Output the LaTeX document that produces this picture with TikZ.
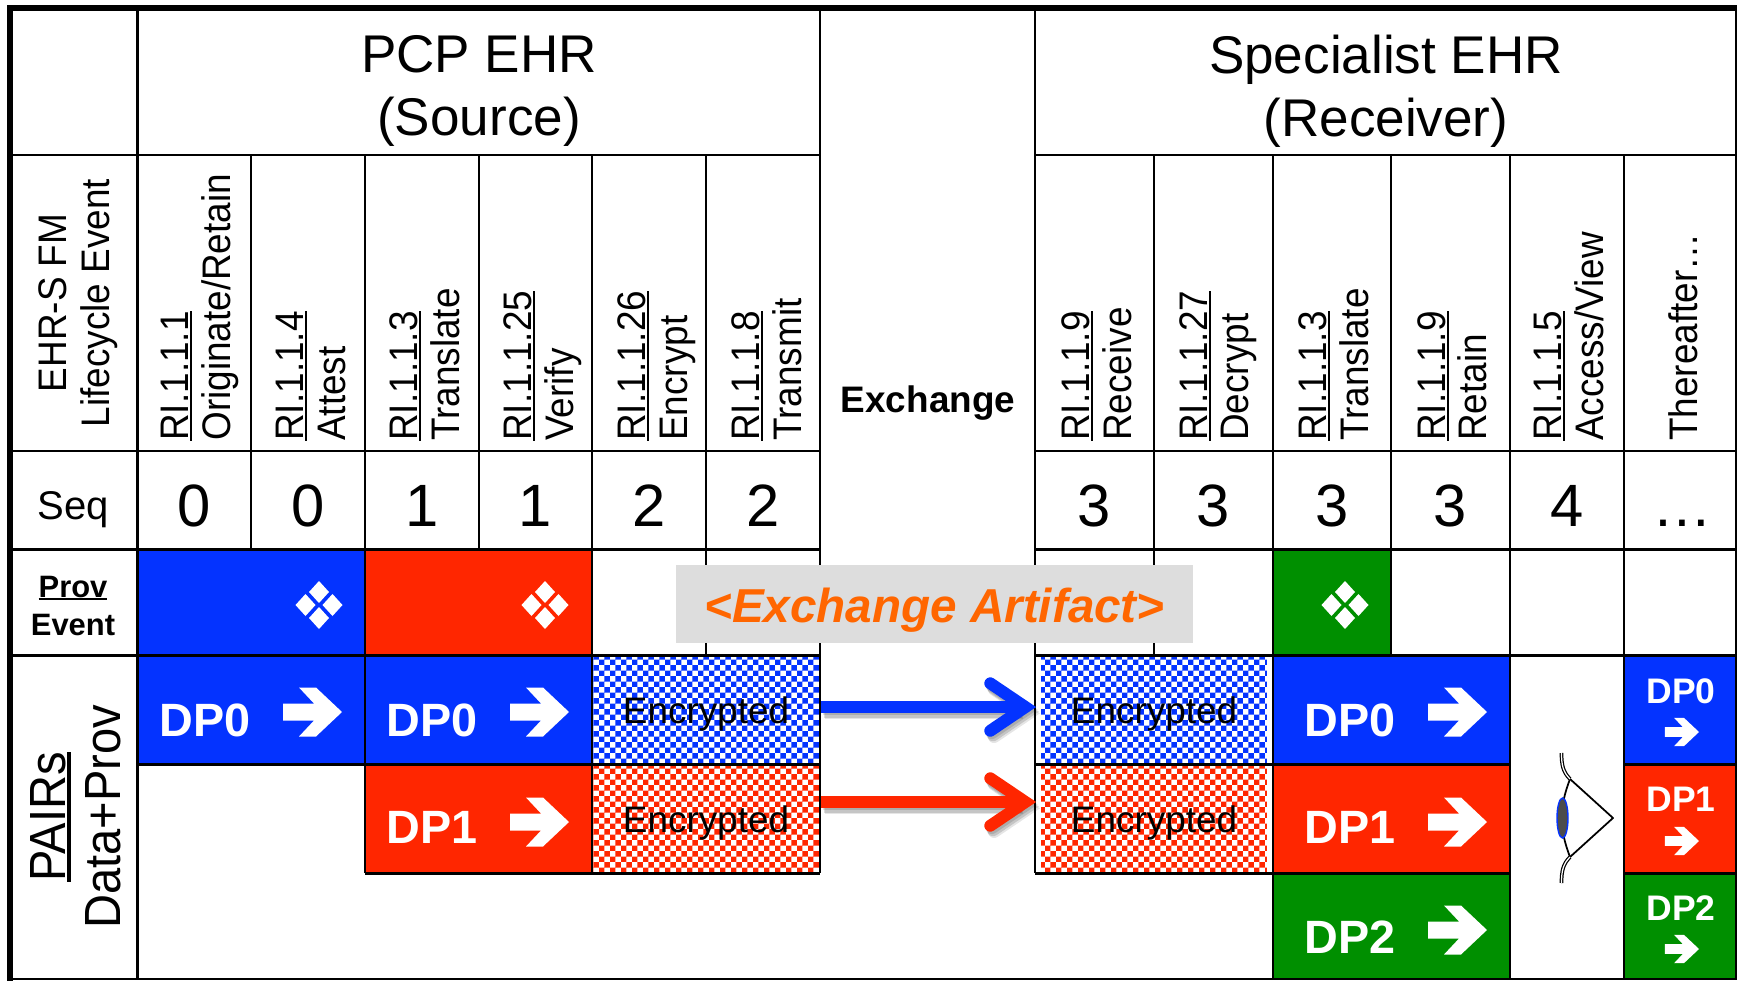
\documentclass[tikz,border=0pt]{standalone}
\usepackage{fontspec}
\setmainfont{Liberation Sans}
\usepackage{xcolor}
\usetikzlibrary{arrows.meta}
\usetikzlibrary{patterns}

\definecolor{dpblue}{HTML}{0433FF}
\definecolor{dpred}{HTML}{FF2600}
\definecolor{dpgreen}{HTML}{008F00}
\definecolor{artorange}{HTML}{FF6600}
\definecolor{artgray}{HTML}{DDDDDD}

\newcommand{\riline}[1]{\setbox0=\hbox{#1}\rlap{#1}\rule[-0.11em]{\wd0}{0.065em}}

\pgfdeclarepatternformonly{enccheck}{\pgfpointorigin}{\pgfqpoint{6.2pt}{6.2pt}}{\pgfqpoint{6.2pt}{6.2pt}}{
    \pgfpathrectangle{\pgfpointorigin}{\pgfqpoint{3.1pt}{3.1pt}}
    \pgfpathrectangle{\pgfqpoint{3.1pt}{3.1pt}}{\pgfqpoint{3.1pt}{3.1pt}}
    \pgfusepath{fill}
}

\tikzset{
    gridline/.style={line width=1.25pt},
    rowline/.style={line width=1.7pt},
    hdrtext/.style={align=center, inner sep=0pt, font=\fontsize{30.2pt}{35.9pt}\selectfont},
    sidetext/.style={rotate=90, yscale=1.08, align=center, inner sep=0pt, font=\fontsize{21pt}{22.7pt}\selectfont},
    evtext/.style={rotate=90, yscale=1.08, anchor=base west, inner sep=0pt, font=\fontsize{21pt}{24pt}\selectfont},
    pairtext/.style={rotate=90, yscale=1.08, anchor=base, inner sep=0pt, font=\fontsize{26.8pt}{30pt}\selectfont},
    seqtext/.style={anchor=base, inner sep=0pt, font=\fontsize{34pt}{40pt}\selectfont},
    provtext/.style={anchor=base, inner sep=0pt, font=\bfseries\fontsize{17.6pt}{21pt}\selectfont},
    dpbig/.style={anchor=base west, inner sep=0pt, text=white, font=\bfseries\fontsize{26.6pt}{30pt}\selectfont},
    dpsmall/.style={anchor=base, inner sep=0pt, text=white, font=\bfseries\fontsize{20.2pt}{24pt}\selectfont},
    enccell/.style={minimum width=4.52cm, minimum height=2.14cm, inner sep=0pt, text height=20pt, text depth=4.6pt,
        pattern=enccheck, font=\fontsize{21pt}{24pt}\selectfont},
    exarrow/.style={line width=6.8pt, -{Straight Barb[length=20pt, width=27pt, line cap=round, line join=miter]}},
    dparrow/.pic={
        \fill[white] (-59,-8.5) -- (-28,-8.5) -- (-43,-24.5) -- (-26,-24.5) -- (0,0)
            -- (-26,24.5) -- (-43,24.5) -- (-28,8.5) -- (-59,8.5) -- cycle;
    },
    provmark/.pic={
        \foreach \dx/\dy in {0/-13, 13.5/0, 0/13, -13.5/0}
            \fill[white] (\dx-10,\dy) -- (\dx,\dy-11) -- (\dx+10,\dy) -- (\dx,\dy+11) -- cycle;
    }
}

\begin{document}
\begin{tikzpicture}[x=0.02cm, y=-0.02cm]
    \useasboundingbox (0,0) rectangle (1739,981);

    % prov event blocks
    \fill[dpblue] (137,549) rectangle (365,655);
    \fill[dpred] (365,549) rectangle (592,655);
    \fill[dpgreen] (1273,549) rectangle (1391,655);
    \pic at (319,605) {provmark};
    \pic at (545,605) {provmark};
    \pic at (1345,605) {provmark};

    % data+prov blocks
    \fill[dpblue] (137,655) rectangle (592,764);
    \fill[dpred] (365,764) rectangle (592,873);
    \fill[dpblue] (1273,655) rectangle (1510,764);
    \fill[dpred] (1273,764) rectangle (1510,873);
    \fill[dpgreen] (1273,873) rectangle (1510,980);
    \fill[dpblue] (1624,655) rectangle (1737,764);
    \fill[dpred] (1624,764) rectangle (1737,873);
    \fill[dpgreen] (1624,873) rectangle (1737,980);

    \node[enccell, pattern color=dpblue] (encbluel) at (706,709.5) {Encrypted};
    \node[enccell, pattern color=dpred] (encredl) at (706,818.5) {Encrypted};
    \node[enccell, pattern color=dpblue] (encbluer) at (1154,709.5) {Encrypted};
    \node[enccell, pattern color=dpred] (encredr) at (1154,818.5) {Encrypted};

    % table lines
    \foreach \xa/\ya/\yb in {137.5/8/979, 251/155/549, 365/155/873, 479/155/549, 592/155/873, 706/155/655,
        820/8/873, 1035/8/873, 1154/155/655, 1273/155/979, 1391/155/655, 1510/155/979, 1624/155/979, 1736/8/979}
        \draw[gridline] (\xa,\ya) -- (\xa,\yb);
    \foreach \yc in {155, 451}
        \draw[gridline] (10,\yc) -- (820,\yc) (1035,\yc) -- (1737,\yc);
    \foreach \yc in {549, 655}
        \draw[rowline] (10,\yc) -- (820,\yc) (1035,\yc) -- (1737,\yc);
    \draw[rowline] (137,764) -- (820,764) (1035,764) -- (1510,764) (1624,764) -- (1737,764);
    \draw[rowline] (365,873) -- (820,873) (1035,873) -- (1510,873) (1624,873) -- (1737,873);
    \draw[gridline] (10,979) -- (1737,979);
    \draw[line width=3.4pt] (1737,8) -- (10,8) -- (10,981);

    % headers
    \node[hdrtext] (pcp) at (479,91) {PCP EHR\\(Source)};
    \node[hdrtext] (spec) at (1386,91) {Specialist EHR\\(Receiver)};
    \node[anchor=base, inner sep=0pt, font=\bfseries\fontsize{21pt}{24pt}\selectfont] (exch) at (928,412) {Exchange};
    \node[sidetext] (life) at (78,303) {EHR-S FM\\Lifecycle Event};

    \foreach \xa/\xb/\rinum/\evname [count=\i] in {188/230/RI.1.1.1/{Originate/Retain}, 303/345/RI.1.1.4/Attest,
        417/459/RI.1.1.3/Translate, 531/573/RI.1.1.25/Verify, 645/687/RI.1.1.26/Encrypt, 759/801/RI.1.1.8/Transmit,
        1089/1131/RI.1.1.9/Receive, 1207/1248/RI.1.1.27/Decrypt, 1326/1368/RI.1.1.3/Translate, 1445/1486/RI.1.1.9/Retain,
        1561/1603/RI.1.1.5/{Access/View}}{
        \node[evtext] (ri\i) at (\xa,441) {\riline{\rinum}};
        \node[evtext] (ev\i) at (\xb,441) {\evname};
    }
    \node[evtext] (after) at (1697,441) {Thereafter…};

    % sequence row
    \node[anchor=base, inner sep=0pt, font=\fontsize{22.8pt}{26pt}\selectfont] (seq) at (73,519) {Seq};
    \foreach \xc/\val [count=\i] in {194/0, 308/0, 422/1, 535.5/1, 649/2, 763/2, 1094.5/3, 1213.5/3, 1332/3, 1450.5/3, 1567/4, 1682/…}
        \node[seqtext] (num\i) at (\xc,526) {\val};

    \node[provtext] (prov) at (73,597) {\riline{Prov}};
    \node[provtext] (event) at (73,635) {Event};

    \node[pairtext] (pairs) at (65,817) {\riline{PAIRs}};
    \node[pairtext] (dataprov) at (120,817) {Data+Prov};

    % DP labels
    \foreach \xd/\yd/\lbl [count=\i] in {159/736/DP0, 386/736/DP0, 386/843/DP1, 1304/736/DP0, 1304/843/DP1, 1304/953/DP2}
        \node[dpbig] (dp\i) at (\xd,\yd) {\lbl};
    \foreach \xd/\yd in {342/712, 569/712, 569/822, 1487/712, 1487/822, 1487/930}
        \pic at (\xd,\yd) {dparrow};
    \foreach \yd/\ya/\lbl [count=\i] in {703/732/DP0, 811/841/DP1, 920/949/DP2}{
        \node[dpsmall] (dpr\i) at (1681,\yd) {\lbl};
        \pic[scale=0.58] at (1699,\ya) {dparrow};
    }

    % exchange arrows
    \foreach \cola/\cellb/\cellc/\shft in {dpblue/encbluel/encbluer/1.4pt, dpred/encredl/encredr/9.4pt}{
        \foreach \off/\opac in {1.4pt/0.12, 2.6pt/0.14, 3.6pt/0.1}
            \draw[exarrow, draw=black, opacity=\opac, transform canvas={shift={(0.6*\off,-\off)}}]
                ([xshift=1.2pt, yshift=\shft]\cellb.east) -- ([xshift=-2.6pt, yshift=\shft]\cellc.west);
        \draw[exarrow, draw=\cola] ([xshift=1.2pt, yshift=\shft]\cellb.east) -- ([xshift=-2.6pt, yshift=\shft]\cellc.west);
    }

    \node[fill=artgray, minimum width=10.34cm, minimum height=1.56cm, inner sep=0pt, text=artorange,
        text height=27.6pt, text depth=6pt,
        font=\bfseries\itshape\fontsize{27.1pt}{32pt}\selectfont] (artifact) at (934.5,604) {<Exchange Artifact>};

    % eye
    \draw[line width=1pt, line join=round] (1570,779) -- (1613,818) -- (1570,857);
    \draw[line width=1pt] (1570,779) .. controls (1564,795) and (1562,805) .. (1562,818)
        .. controls (1562,831) and (1564,841) .. (1570,857);
    \draw[double, line width=0.7pt, double distance=0.7pt] (1570,779) .. controls (1563,772) and (1561.5,765) .. (1561.5,753);
    \draw[double, line width=0.7pt, double distance=0.7pt] (1570,857) .. controls (1563,864) and (1561.5,871) .. (1561.5,883);
    \draw[draw=dpblue, fill=black!70, line width=0.8pt] (1562.5,818) ellipse [x radius=5.5, y radius=20];
\end{tikzpicture}
\end{document}
